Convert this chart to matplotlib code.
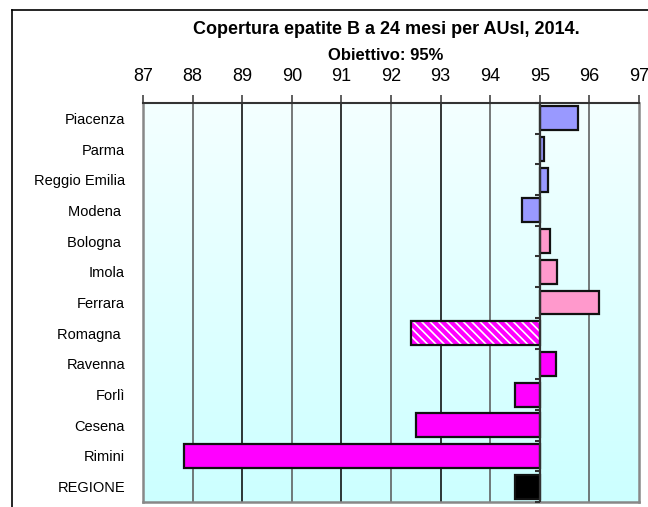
import numpy as np
import matplotlib
matplotlib.use("Agg")
import matplotlib.pyplot as plt
from matplotlib.lines import Line2D
from matplotlib.colors import LinearSegmentedColormap

plt.rcParams['font.family'] = ['Liberation Sans', 'DejaVu Sans']
plt.rcParams['hatch.linewidth'] = 1.2

categories = ["Piacenza", "Parma", "Reggio Emilia", "Modena ", "Bologna ", "Imola",
              "Ferrara", "Romagna ", "Ravenna", "Forlì", "Cesena", "Rimini", "REGIONE"]
values = [95.77, 95.08, 95.17, 94.65, 95.21, 95.35, 96.20, 92.41, 95.32, 94.51, 92.51, 87.82, 94.50]
colors = ["#9999FF"] * 4 + ["#FF99CC"] * 3 + ["#FF00FF"] * 5 + ["#000000"]
hatched = [False] * 7 + [True] + [False] * 5
target = 95
xticks = list(range(87, 98))

fig = plt.figure(figsize=(6.48, 5.07), dpi=100)
W, H = 648, 507
ax = fig.add_axes([143 / W, 1 - 502 / H, 496 / W, 399 / H])

# background gradient
grad = np.linspace(0, 1, 256).reshape(-1, 1)
cmap = LinearSegmentedColormap.from_list("bg", ["#F4FFFF", "#CCFFFF"])
ax.imshow(grad, aspect='auto', cmap=cmap, extent=[87, 97, len(categories) - 0.5, -0.5], zorder=0)

ax.set_xlim(87, 97)
ax.set_ylim(len(categories) - 0.5, -0.5)

# grid lines
for i, x in enumerate(xticks[1:-1]):
    ax.axvline(x, color="#000000" if i % 2 else "#555555", lw=1.1, zorder=1)

y = np.arange(len(categories))
for yi, v, c, h in zip(y, values, colors, hatched):
    if h:
        ax.barh(yi, v - target, left=target, height=0.78, color="#FF00FF",
                edgecolor="white", hatch="\\\\\\\\", lw=0, zorder=3)
        ax.barh(yi, v - target, left=target, height=0.78, fill=False,
                edgecolor="#111111", lw=1.6, zorder=4)
    else:
        ax.barh(yi, v - target, left=target, height=0.78, color=c,
                edgecolor="#111111", lw=1.6, zorder=3)

# category axis at target with small ticks
ax.axvline(target, color="#333333", lw=1.6, zorder=5)
for b in np.arange(len(categories) + 1) - 0.5:
    ax.plot([target - 0.09, target], [b, b], color="#333333", lw=1.5, zorder=5,
            solid_capstyle='butt', clip_on=False)

ax.set_yticks(y)
ax.set_yticklabels(categories, fontsize=10.5)
ax.tick_params(axis='y', length=0, pad=13)

ax.xaxis.tick_top()
ax.set_xticks(xticks)
ax.set_xticklabels([str(t) for t in xticks], fontsize=13)
ax.tick_params(axis='x', direction='out', length=6, width=1.1, pad=7, color="#333333")

for s in ['left', 'bottom', 'right']:
    ax.spines[s].set_color("#888888")
    ax.spines[s].set_linewidth(1.8)
ax.spines['top'].set_color("#333333")
ax.spines['top'].set_linewidth(1.5)

# outer frame
fig.add_artist(Line2D([12 / W, 12 / W], [0, 1 - 10 / H], color="black", lw=1.2, transform=fig.transFigure))
fig.add_artist(Line2D([12 / W, 1], [1 - 10 / H, 1 - 10 / H], color="black", lw=1.2, transform=fig.transFigure))

fig.text(386 / W, 1 - 29 / H, "Copertura epatite B a 24 mesi per AUsl, 2014.", ha='center', va='center',
         fontsize=13, fontweight='bold')
fig.text(386 / W, 1 - 55 / H, "Obiettivo: 95%", ha='center', va='center', fontsize=12, fontweight='bold')

fig.savefig("out.png", dpi=100)
